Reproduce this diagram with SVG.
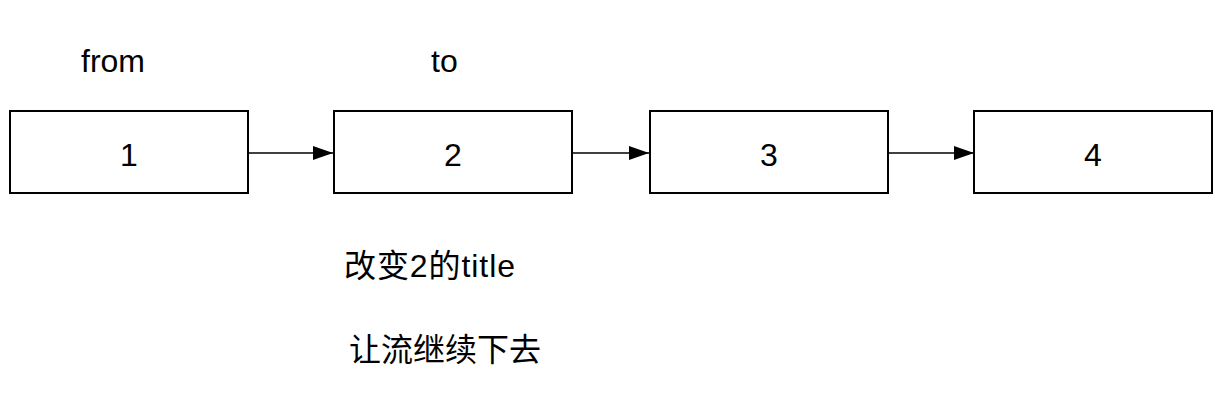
<svg xmlns="http://www.w3.org/2000/svg" width="1224" height="404" viewBox="0 0 1224 404">
<style>
.box{fill:#fff;stroke:#000;stroke-width:2}
.lbl{font-family:"Liberation Sans","Noto Sans CJK SC",sans-serif;font-size:32px;fill:#000}
.c{text-anchor:middle}
.edge{stroke:#000;stroke-width:1.5;fill:none}
</style>
<defs>
<marker id="ah" markerWidth="20" markerHeight="14" refX="20" refY="7" orient="auto" markerUnits="userSpaceOnUse">
<path d="M0,0 L20,7 L0,14 Z" fill="#000"/>
</marker>
</defs>
<rect width="1224" height="404" fill="#fff"/>
<g id="edges">
<line class="edge" x1="248" y1="153" x2="333" y2="153" marker-end="url(#ah)"/>
<line class="edge" x1="572" y1="153" x2="649" y2="153" marker-end="url(#ah)"/>
<line class="edge" x1="888" y1="153" x2="974" y2="153" marker-end="url(#ah)"/>
</g>
<g id="node1"><rect class="box" x="10" y="111" width="238" height="82"/><text class="lbl c" x="129" y="166">1</text></g>
<g id="node2"><rect class="box" x="334" y="111" width="238" height="82"/><text class="lbl c" x="453" y="166">2</text></g>
<g id="node3"><rect class="box" x="650" y="111" width="238" height="82"/><text class="lbl c" x="769" y="166">3</text></g>
<g id="node4"><rect class="box" x="974" y="111" width="238" height="82"/><text class="lbl c" x="1093" y="166">4</text></g>
<g id="from"><text class="lbl" x="81" y="72">from</text></g>
<g id="to"><text class="lbl" x="431" y="72">to</text></g>
<g id="note1"><text class="lbl" x="344" y="277" textLength="171" lengthAdjust="spacing">改变2的title</text></g>
<g id="note2"><text class="lbl" x="349" y="361">让流继续下去</text></g>
</svg>
